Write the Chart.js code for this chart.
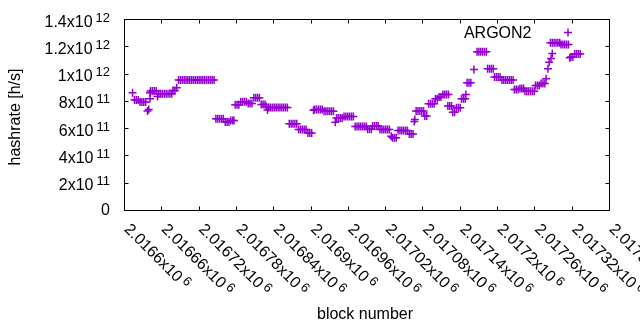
<!DOCTYPE html>
<html>
<head>
<meta charset="utf-8">
<script src="https://cdn.jsdelivr.net/npm/chart.js@4.4.1/dist/chart.umd.min.js"></script>
<style>
  html, body { margin: 0; padding: 0; background: #fff; }
</style>
</head>
<body>
<canvas id="chart" width="640" height="330"></canvas>
<script>
// block numbers and hashrate readings (h/s), one entry per plotted point
const blocks = [
    2016613,
    2016616, 2016619, 2016622,
    2016625, 2016628, 2016631, 2016634,
    2016637, 2016639, 2016641, 2016641,
    2016642, 2016645, 2016648, 2016651,
    2016653,
    2016655, 2016658, 2016661, 2016664, 2016667, 2016670, 2016673, 2016676,
    2016678, 2016681, 2016684,
    2016687, 2016690, 2016693, 2016696, 2016699, 2016702, 2016705, 2016708, 2016711, 2016714,
    2016717, 2016720, 2016723, 2016726, 2016729, 2016732, 2016735, 2016738, 2016741, 2016744,
    2016747, 2016750, 2016753, 2016756, 2016759,
    2016762, 2016765, 2016768,
    2016771, 2016774, 2016776,
    2016778, 2016781, 2016784,
    2016787, 2016790, 2016793, 2016796,
    2016799, 2016802, 2016805,
    2016808, 2016811, 2016814, 2016817,
    2016820, 2016823, 2016826,
    2016828, 2016830,
    2016832, 2016835, 2016838, 2016841, 2016844, 2016847, 2016850, 2016853, 2016856, 2016859, 2016862,
    2016865, 2016868, 2016871, 2016874, 2016877,
    2016880, 2016883, 2016886, 2016889, 2016892,
    2016895, 2016898, 2016901,
    2016904,
    2016906, 2016909, 2016912, 2016915, 2016918,
    2016921, 2016924, 2016927, 2016930, 2016933, 2016936,
    2016939,
    2016941, 2016944, 2016947, 2016950,
    2016953, 2016956, 2016959, 2016962, 2016965, 2016968,
    2016971, 2016974, 2016977, 2016980, 2016983, 2016986, 2016989,
    2016991, 2016994, 2016997,
    2016999, 2017002, 2017005, 2017008,
    2017011, 2017014, 2017017, 2017020, 2017023, 2017026,
    2017029,
    2017031, 2017034, 2017037,
    2017040, 2017043, 2017046, 2017049, 2017052, 2017055,
    2017058, 2017061, 2017064,
    2017066, 2017067,
    2017069, 2017072, 2017075, 2017078, 2017081,
    2017083, 2017086,
    2017089, 2017092, 2017095, 2017098,
    2017100, 2017103,
    2017106, 2017109,
    2017112, 2017115, 2017118, 2017121,
    2017120, 2017123, 2017126,
    2017128, 2017131,
    2017134, 2017137, 2017140,
    2017142, 2017145, 2017148,
    2017149,
    2017151, 2017154, 2017157,
    2017162,
    2017167, 2017170, 2017173, 2017176, 2017179, 2017182,
    2017184, 2017187, 2017190, 2017193,
    2017195, 2017198, 2017201, 2017204,
    2017207, 2017210, 2017213, 2017216, 2017219, 2017222, 2017225,
    2017227, 2017230, 2017233,
    2017236, 2017239, 2017242,
    2017244, 2017247, 2017250, 2017253, 2017256, 2017259,
    2017261, 2017264, 2017267,
    2017270, 2017273, 2017276,
    2017278, 2017281, 2017283, 2017286, 2017288,
    2017285, 2017288, 2017291, 2017294, 2017297, 2017300,
    2017302, 2017305, 2017308, 2017311, 2017314,
    2017316,
    2017318, 2017321,
    2017324, 2017327, 2017330, 2017333
];

const hashrate = [
    8.63e11,
    8.10e11, 8.10e11, 8.10e11,
    7.95e11, 7.95e11, 7.95e11, 7.95e11,
    7.29e11, 7.40e11, 8.63e11, 8.19e11,
    8.76e11, 8.76e11, 8.76e11, 8.76e11,
    8.36e11,
    8.55e11, 8.55e11, 8.55e11, 8.55e11, 8.55e11, 8.55e11, 8.55e11, 8.55e11,
    8.80e11, 8.80e11, 8.99e11,
    9.57e11, 9.57e11, 9.57e11, 9.57e11, 9.57e11, 9.57e11, 9.57e11, 9.57e11, 9.57e11, 9.57e11,
    9.57e11, 9.57e11, 9.57e11, 9.57e11, 9.57e11, 9.57e11, 9.57e11, 9.57e11, 9.57e11, 9.57e11,
    6.72e11, 6.72e11, 6.72e11, 6.72e11, 6.72e11,
    6.49e11, 6.49e11, 6.49e11,
    6.60e11, 6.60e11, 6.60e11,
    7.75e11, 7.75e11, 7.75e11,
    7.97e11, 7.97e11, 7.97e11, 7.97e11,
    7.84e11, 7.84e11, 7.84e11,
    8.26e11, 8.26e11, 8.26e11, 8.26e11,
    7.77e11, 7.77e11, 7.77e11,
    7.62e11, 7.37e11,
    7.55e11, 7.55e11, 7.55e11, 7.55e11, 7.55e11, 7.55e11, 7.55e11, 7.55e11, 7.55e11, 7.55e11, 7.55e11,
    6.36e11, 6.36e11, 6.36e11, 6.36e11, 6.36e11,
    5.94e11, 5.94e11, 5.94e11, 5.94e11, 5.94e11,
    5.68e11, 5.68e11, 5.68e11,
    7.35e11,
    7.40e11, 7.40e11, 7.40e11, 7.40e11, 7.40e11,
    7.28e11, 7.28e11, 7.28e11, 7.28e11, 7.28e11, 7.28e11,
    6.47e11,
    6.78e11, 6.78e11, 6.78e11, 6.78e11,
    6.89e11, 6.89e11, 6.89e11, 6.89e11, 6.89e11, 6.89e11,
    6.16e11, 6.16e11, 6.16e11, 6.16e11, 6.16e11, 6.16e11, 6.16e11,
    5.96e11, 5.96e11, 5.96e11,
    6.19e11, 6.19e11, 6.19e11, 6.19e11,
    5.94e11, 5.94e11, 5.94e11, 5.94e11, 5.94e11, 5.94e11,
    5.45e11,
    5.33e11, 5.33e11, 5.33e11,
    5.86e11, 5.86e11, 5.86e11, 5.86e11, 5.86e11, 5.86e11,
    5.61e11, 5.61e11, 5.61e11,
    6.52e11, 6.67e11,
    7.29e11, 7.29e11, 7.29e11, 7.29e11, 7.29e11,
    6.93e11, 6.93e11,
    7.83e11, 7.83e11, 7.83e11, 7.83e11,
    8.19e11, 8.19e11,
    8.32e11, 8.32e11,
    8.50e11, 8.50e11, 8.50e11, 8.50e11,
    7.66e11, 7.66e11, 7.66e11,
    7.21e11, 7.21e11,
    7.53e11, 7.53e11, 7.53e11,
    8.19e11, 8.19e11, 8.19e11,
    8.50e11,
    9.36e11, 9.36e11, 9.36e11,
    1.034e12,
    1.163e12, 1.163e12, 1.163e12, 1.163e12, 1.163e12, 1.163e12,
    1.039e12, 1.039e12, 1.039e12, 1.039e12,
    9.79e11, 9.79e11, 9.79e11, 9.79e11,
    9.57e11, 9.57e11, 9.57e11, 9.57e11, 9.57e11, 9.57e11, 9.57e11,
    8.87e11, 8.87e11, 8.87e11,
    8.94e11, 8.94e11, 8.94e11,
    8.74e11, 8.74e11, 8.74e11, 8.74e11, 8.74e11, 8.74e11,
    9.16e11, 9.16e11, 9.16e11,
    9.31e11, 9.31e11, 9.31e11,
    9.65e11, 1.039e12, 1.087e12, 1.114e12, 1.151e12,
    1.229e12, 1.229e12, 1.229e12, 1.229e12, 1.229e12, 1.229e12,
    1.217e12, 1.217e12, 1.217e12, 1.217e12, 1.217e12,
    1.119e12,
    1.125e12, 1.125e12,
    1.147e12, 1.147e12, 1.147e12, 1.147e12
];

const xTickValues = [2016600, 2016660, 2016720, 2016780, 2016840, 2016900, 2016960,
                     2017020, 2017080, 2017140, 2017200, 2017260, 2017320, 2017380];
const yTickValues = [0, 2e11, 4e11, 6e11, 8e11, 1e12, 1.2e12, 1.4e12];

const seriesName = 'ARGON2';
const PURPLE = '#9400d3';
const FONT = '"Liberation Sans", Arial, sans-serif';
const MAIN_PX = 16;
const SUP_PX = 13;

// "2.0166x10" + "6", gnuplot style mantissa/exponent
function sciParts(v) {
    if (v === 0) return ['0', ''];
    const e = Math.floor(Math.log10(v) + 1e-9);
    const m = parseFloat((v / Math.pow(10, e)).toFixed(5));
    return [m + 'x10', String(e)];
}

const gnuplotFrame = {
    id: 'gnuplotFrame',
    afterDraw(chart) {
        const { ctx, chartArea: a, scales: { x, y } } = chart;
        const tickLen = 4;
        const mainFont = MAIN_PX + 'px ' + FONT;
        const supFont = SUP_PX + 'px ' + FONT;
        ctx.save();
        ctx.strokeStyle = '#000';
        ctx.lineWidth = 1;
        ctx.strokeRect(a.left, a.top, a.right - a.left, a.bottom - a.top);

        ctx.beginPath();
        x.ticks.forEach(t => {
            const px = Math.floor(x.getPixelForValue(t.value)) + 0.5;
            ctx.moveTo(px, a.bottom); ctx.lineTo(px, a.bottom - tickLen);
            ctx.moveTo(px, a.top); ctx.lineTo(px, a.top + tickLen);
        });
        y.ticks.forEach(t => {
            const py = Math.floor(y.getPixelForValue(t.value)) + 0.5;
            ctx.moveTo(a.left, py); ctx.lineTo(a.left + tickLen, py);
            ctx.moveTo(a.right, py); ctx.lineTo(a.right - tickLen, py);
        });
        ctx.stroke();

        ctx.fillStyle = '#000';
        ctx.textBaseline = 'alphabetic';
        ctx.textAlign = 'left';

        // y tick labels, right aligned at x = 110
        y.ticks.forEach(t => {
            const py = y.getPixelForValue(t.value);
            const [main, sup] = sciParts(t.value);
            ctx.font = supFont;
            const ws = sup ? ctx.measureText(sup).width : 0;
            ctx.font = mainFont;
            const wm = ctx.measureText(main).width;
            if (!sup) {
                ctx.fillText(main, 110 - wm, py + 4.5);
                return;
            }
            ctx.fillText(main, 110 - ws - 3 - wm, py + 7);
            ctx.font = supFont;
            ctx.fillText(sup, 110 - ws, py + 2);
        });

        // x tick labels, rotated 45 degrees clockwise
        x.ticks.forEach(t => {
            const px = x.getPixelForValue(t.value);
            const [main, sup] = sciParts(t.value);
            ctx.save();
            ctx.translate(px - 1, 230);
            ctx.rotate(Math.PI / 4);
            ctx.font = mainFont;
            const wm = ctx.measureText(main).width;
            ctx.fillText(main, 0, 0);
            ctx.font = supFont;
            ctx.fillText(sup, wm + 3, -4.5);
            ctx.restore();
        });

        // axis titles
        ctx.font = mainFont;
        ctx.textAlign = 'center';
        ctx.textBaseline = 'middle';
        ctx.fillText('block number', 365, 315);
        ctx.save();
        ctx.translate(16, 117);
        ctx.rotate(-Math.PI / 2);
        ctx.fillText('hashrate [h/s]', 0, 0);
        ctx.restore();

        // key: title plus sample point
        ctx.textAlign = 'right';
        ctx.textBaseline = 'alphabetic';
        ctx.fillText(seriesName, 531.5, 37.5);
        ctx.strokeStyle = PURPLE;
        ctx.lineWidth = 1.5;
        ctx.beginPath();
        ctx.moveTo(564, 32.5); ctx.lineTo(572, 32.5);
        ctx.moveTo(568, 28.5); ctx.lineTo(568, 36.5);
        ctx.stroke();
        ctx.restore();
    }
};

const points = blocks.map((b, i) => ({ x: b, y: hashrate[i] }));

new Chart(document.getElementById('chart'), {
    type: 'scatter',
    data: {
        datasets: [{
            label: seriesName,
            data: points,
            pointStyle: 'cross',
            pointRadius: 4,
            borderWidth: 1.5,
            borderColor: PURPLE,
            backgroundColor: PURPLE
        }]
    },
    options: {
        responsive: false,
        animation: false,
        devicePixelRatio: 1,
        layout: { padding: { top: 19.5, right: 30.5, left: 0, bottom: 0 } },
        plugins: {
            legend: { display: false },
            tooltip: { enabled: false }
        },
        scales: {
            x: {
                type: 'linear',
                min: 2016600,
                max: 2017380,
                afterBuildTicks: s => { s.ticks = xTickValues.map(v => ({ value: v })); },
                afterFit: s => { s.height = 119.5; },
                ticks: { display: false },
                grid: { display: false, drawTicks: false },
                border: { display: false }
            },
            y: {
                type: 'linear',
                min: 0,
                max: 1.4e12,
                afterBuildTicks: s => { s.ticks = yTickValues.map(v => ({ value: v })); },
                afterFit: s => { s.width = 124.5; },
                ticks: { display: false },
                grid: { display: false, drawTicks: false },
                border: { display: false }
            }
        }
    },
    plugins: [gnuplotFrame]
});
</script>
</body>
</html>
